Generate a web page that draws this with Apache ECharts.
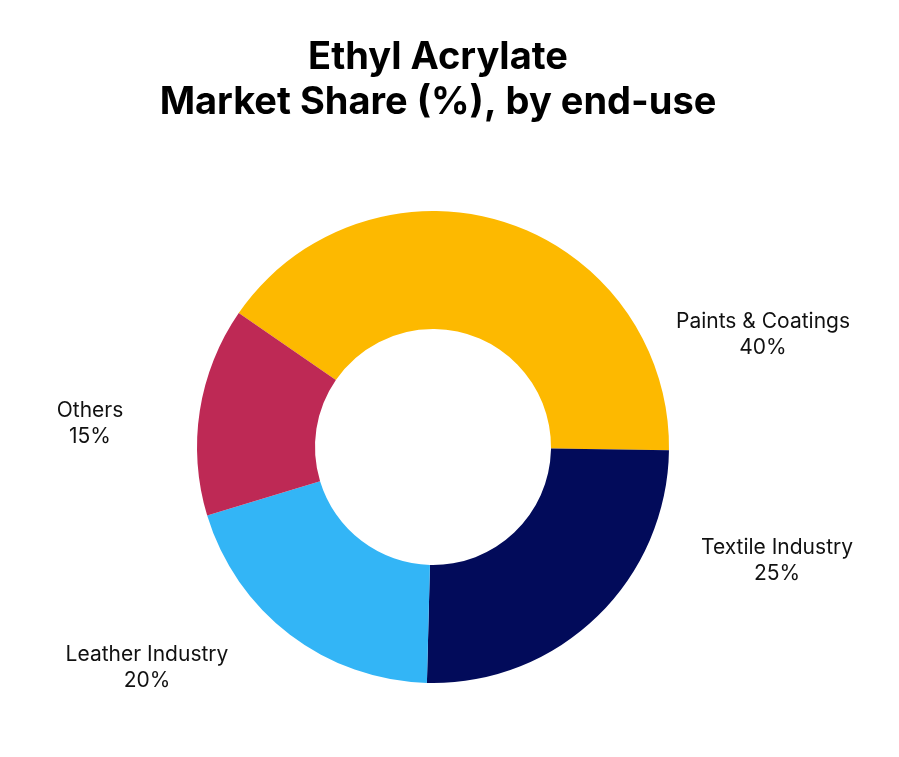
<!DOCTYPE html>
<html>
<head>
<meta charset="utf-8">
<script src="https://cdn.jsdelivr.net/npm/echarts@6/dist/echarts.min.js"></script>
<style>html,body{margin:0;padding:0;background:#fff;}#chart{width:899px;height:757px;}</style>
</head>
<body>
<div id="chart"></div>
<script>
var categories = ['Paints & Coatings', 'Textile Industry', 'Leather Industry', 'Others'];
var shares = [40.6, 25.2, 19.9, 14.3];
var labelPercents = ['40%', '25%', '20%', '15%'];
var colors = ['#FDB900', '#020B5A', '#33B5F6', '#BE2955'];
var labelPos = [[763, 335], [777, 561], [147, 668], [90, 424]];

var chart = echarts.init(document.getElementById('chart'));
chart.setOption({
  backgroundColor: '#ffffff',
  title: {
    text: 'Ethyl Acrylate\nMarket Share (%), by end-use',
    left: 433, top: 30, textAlign: 'center',
    textStyle: { fontFamily: 'Inter', fontWeight: 'bold', fontSize: 38, lineHeight: 45, color: '#000' }
  },
  series: [{
    type: 'pie',
    center: [433, 447],
    radius: [118, 236],
    startAngle: 145.4,
    clockwise: true,
    silent: true,
    data: categories.map(function (c, i) {
      return { name: c, value: shares[i], itemStyle: { color: colors[i] } };
    }),
    label: {
      show: true,
      formatter: function (p) { return p.name + '\n' + labelPercents[p.dataIndex]; },
      fontFamily: 'Inter', fontSize: 21, lineHeight: 26, color: '#111', align: 'center'
    },
    labelLine: { show: false },
    labelLayout: function (p) {
      var pos = labelPos[p.dataIndex];
      return { x: pos[0], y: pos[1], align: 'center', verticalAlign: 'middle' };
    }
  }]
});
</script>
</body>
</html>
